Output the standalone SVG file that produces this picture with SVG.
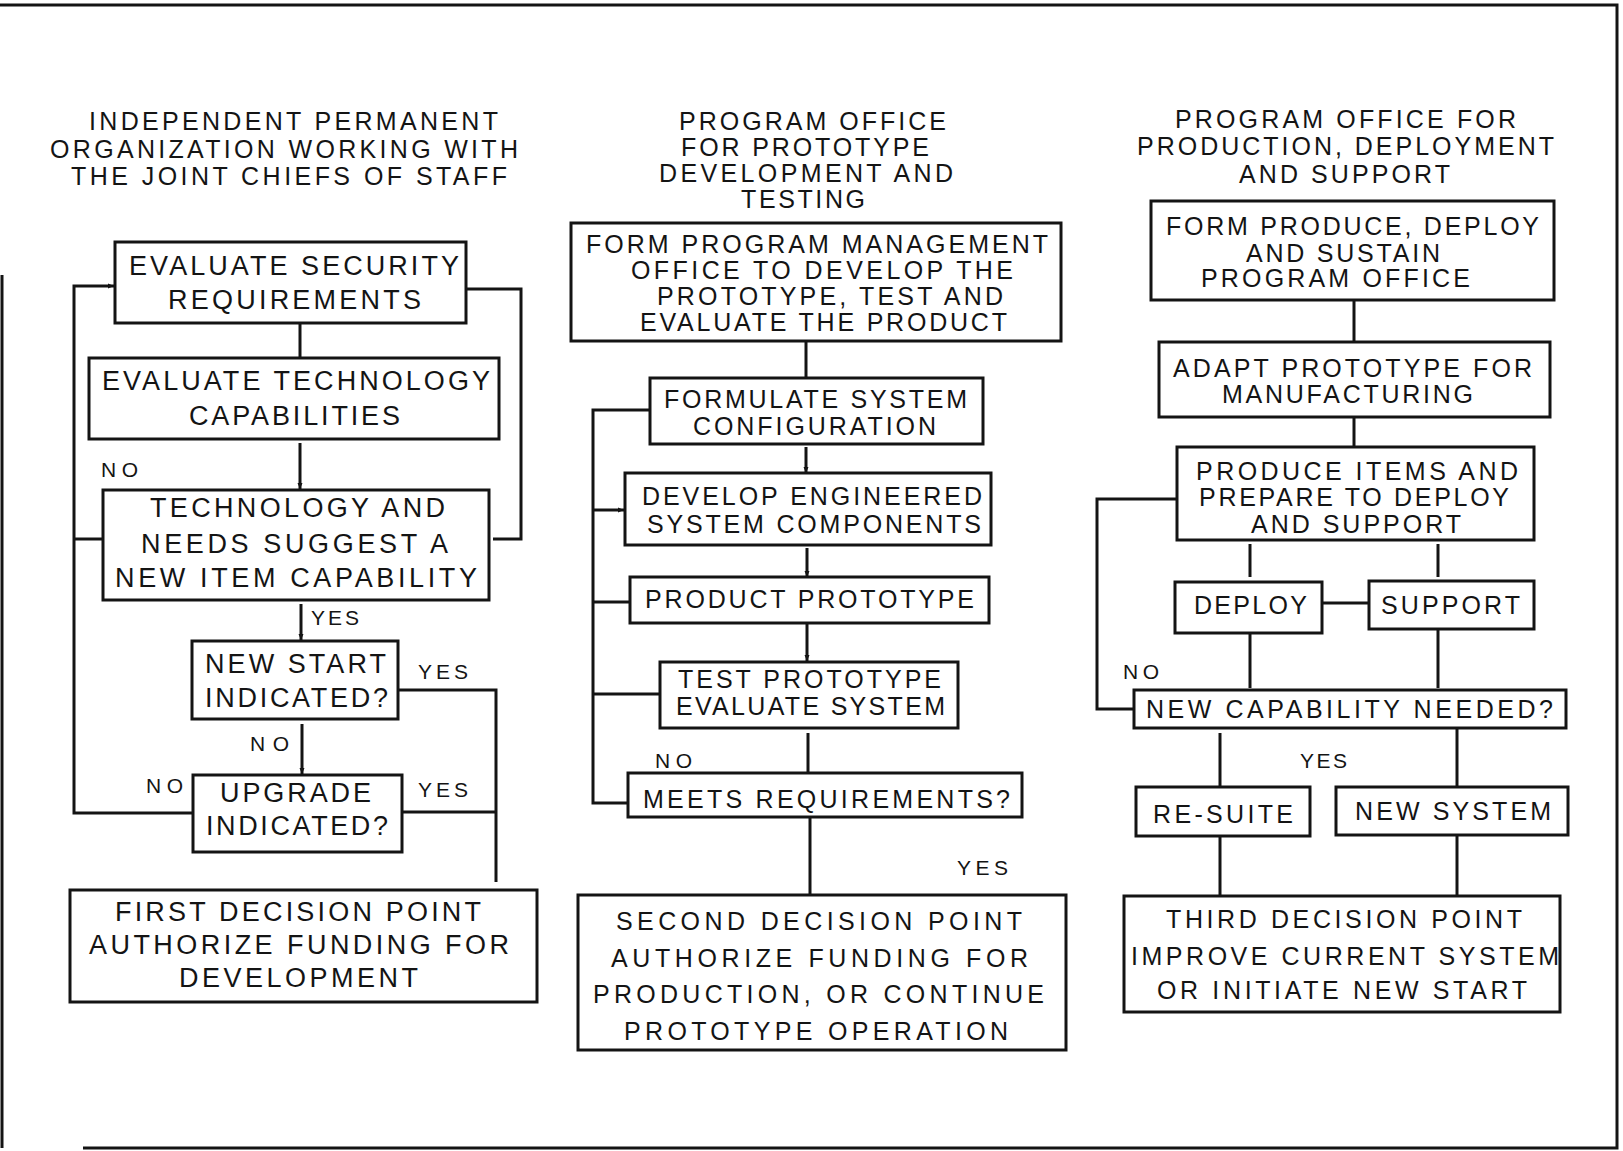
<svg xmlns="http://www.w3.org/2000/svg" width="1623" height="1151" viewBox="0 0 1623 1151">
  <style>
    .box { fill: #fff; stroke: #141414; stroke-width: 3; }
    .ln { fill: none; stroke: #141414; stroke-width: 3; }
    .frame { fill: none; stroke: #141414; stroke-width: 3; }
    text { font-family: "Liberation Sans", Arial, sans-serif; fill: #141414; font-size: 25px; }
    .big { font-size: 27px; }
    .lbl { font-size: 21px; }
  </style>
  <defs>
    <marker id="arr" viewBox="0 0 6 6" refX="6" refY="3" markerWidth="6" markerHeight="6" markerUnits="userSpaceOnUse" orient="auto">
      <path d="M0,0.5 L6,3 L0,5.5 Z" fill="#141414"/>
    </marker>
  </defs>

  <rect x="0" y="0" width="1623" height="1151" fill="#fff"/>

  <!-- page frame -->
  <g id="frame">
    <path class="frame" d="M0 5 H1617 V1148 H83"/>
    <path class="frame" d="M2 275 V1148"/>
  </g>

  <!-- column headings -->
  <g id="heading-1">
    <text x="89" y="130" textLength="409" lengthAdjust="spacing">INDEPENDENT PERMANENT</text>
    <text x="50" y="158" textLength="468" lengthAdjust="spacing">ORGANIZATION WORKING WITH</text>
    <text x="71" y="185" textLength="436" lengthAdjust="spacing">THE JOINT CHIEFS OF STAFF</text>
  </g>
  <g id="heading-2">
    <text x="679" y="130" textLength="267" lengthAdjust="spacing">PROGRAM OFFICE</text>
    <text x="681" y="156" textLength="248" lengthAdjust="spacing">FOR PROTOTYPE</text>
    <text x="659" y="182" textLength="294" lengthAdjust="spacing">DEVELOPMENT AND</text>
    <text x="741" y="208" textLength="124" lengthAdjust="spacing">TESTING</text>
  </g>
  <g id="heading-3">
    <text x="1175" y="128" textLength="341" lengthAdjust="spacing">PROGRAM OFFICE FOR</text>
    <text x="1137" y="155" textLength="417" lengthAdjust="spacing">PRODUCTION, DEPLOYMENT</text>
    <text x="1239" y="183" textLength="211" lengthAdjust="spacing">AND SUPPORT</text>
  </g>

  <!-- connectors -->
  <g id="connectors">
    <!-- column 1 -->
    <path class="ln" d="M300 323 V358"/>
    <path class="ln" d="M300 443 V489" marker-end="url(#arr)"/>
    <path class="ln" d="M301 604 V640" marker-end="url(#arr)"/>
    <path class="ln" d="M302 724 V774" marker-end="url(#arr)"/>
    <path class="ln" d="M193 813 H74 V286 H114" marker-end="url(#arr)"/>
    <path class="ln" d="M74 539 H103"/>
    <path class="ln" d="M466 289 H521 V539 H493"/>
    <path class="ln" d="M398 690 H496 V882"/>
    <path class="ln" d="M402 812 H496"/>
    <!-- column 2 -->
    <path class="ln" d="M806 341 V378"/>
    <path class="ln" d="M806 447 V473" marker-end="url(#arr)"/>
    <path class="ln" d="M807 548 V577" marker-end="url(#arr)"/>
    <path class="ln" d="M807 623 V661" marker-end="url(#arr)"/>
    <path class="ln" d="M808 733 V773"/>
    <path class="ln" d="M810 817 V895"/>
    <path class="ln" d="M650 410 H593 V803 H628"/>
    <path class="ln" d="M593 510 H624" marker-end="url(#arr)"/>
    <path class="ln" d="M593 602 H630"/>
    <path class="ln" d="M593 694 H660"/>
    <!-- column 3 -->
    <path class="ln" d="M1354 300 V342"/>
    <path class="ln" d="M1354 417 V447"/>
    <path class="ln" d="M1250 544 V577"/>
    <path class="ln" d="M1438 544 V577"/>
    <path class="ln" d="M1322 603 H1369"/>
    <path class="ln" d="M1250 633 V688"/>
    <path class="ln" d="M1438 629 V688"/>
    <path class="ln" d="M1177 499 H1097 V709 H1134"/>
    <path class="ln" d="M1220 733 V787"/>
    <path class="ln" d="M1457 728 V787"/>
    <path class="ln" d="M1220 836 V896"/>
    <path class="ln" d="M1457 835 V896"/>
  </g>

  <!-- branch labels -->
  <g id="labels">
    <text class="lbl" x="101" y="477" textLength="37" lengthAdjust="spacing">NO</text>
    <text class="lbl" x="311" y="625" textLength="48" lengthAdjust="spacing">YES</text>
    <text class="lbl" x="418" y="679" textLength="50" lengthAdjust="spacing">YES</text>
    <text class="lbl" x="250" y="751" textLength="39" lengthAdjust="spacing">NO</text>
    <text class="lbl" x="146" y="793" textLength="37" lengthAdjust="spacing">NO</text>
    <text class="lbl" x="418" y="797" textLength="50" lengthAdjust="spacing">YES</text>
    <text class="lbl" x="655" y="768" textLength="37" lengthAdjust="spacing">NO</text>
    <text class="lbl" x="957" y="875" textLength="51" lengthAdjust="spacing">YES</text>
    <text class="lbl" x="1123" y="679" textLength="36" lengthAdjust="spacing">NO</text>
    <text class="lbl" x="1300" y="768" textLength="47" lengthAdjust="spacing">YES</text>
  </g>

  <!-- column 1 nodes -->
  <g id="evaluate-security">
    <rect class="box" x="115" y="242" width="351" height="81"/>
    <text class="big" x="129" y="275" textLength="330" lengthAdjust="spacing">EVALUATE SECURITY</text>
    <text class="big" x="168" y="309" textLength="253" lengthAdjust="spacing">REQUIREMENTS</text>
  </g>
  <g id="evaluate-technology">
    <rect class="box" x="89" y="358" width="410" height="81"/>
    <text class="big" x="102" y="390" textLength="388" lengthAdjust="spacing">EVALUATE TECHNOLOGY</text>
    <text class="big" x="189" y="425" textLength="211" lengthAdjust="spacing">CAPABILITIES</text>
  </g>
  <g id="new-item-capability">
    <rect class="box" x="103" y="490" width="386" height="110"/>
    <text class="big" x="150" y="517" textLength="295" lengthAdjust="spacing">TECHNOLOGY AND</text>
    <text class="big" x="141" y="553" textLength="307" lengthAdjust="spacing">NEEDS SUGGEST A</text>
    <text class="big" x="115" y="587" textLength="362" lengthAdjust="spacing">NEW ITEM CAPABILITY</text>
  </g>
  <g id="new-start">
    <rect class="box" x="192" y="641" width="206" height="78"/>
    <text class="big" x="205" y="673" textLength="181" lengthAdjust="spacing">NEW START</text>
    <text class="big" x="205" y="707" textLength="183" lengthAdjust="spacing">INDICATED?</text>
  </g>
  <g id="upgrade">
    <rect class="box" x="193" y="775" width="209" height="77"/>
    <text class="big" x="220" y="802" textLength="151" lengthAdjust="spacing">UPGRADE</text>
    <text class="big" x="206" y="835" textLength="182" lengthAdjust="spacing">INDICATED?</text>
  </g>
  <g id="first-decision">
    <rect class="box" x="70" y="890" width="467" height="112"/>
    <text class="big" x="115" y="921" textLength="366" lengthAdjust="spacing">FIRST DECISION POINT</text>
    <text class="big" x="89" y="954" textLength="420" lengthAdjust="spacing">AUTHORIZE FUNDING FOR</text>
    <text class="big" x="179" y="987" textLength="239" lengthAdjust="spacing">DEVELOPMENT</text>
  </g>

  <!-- column 2 nodes -->
  <g id="form-pmo">
    <rect class="box" x="571" y="223" width="490" height="118"/>
    <text x="586" y="253" textLength="462" lengthAdjust="spacing">FORM PROGRAM MANAGEMENT</text>
    <text x="631" y="279" textLength="382" lengthAdjust="spacing">OFFICE TO DEVELOP THE</text>
    <text x="657" y="305" textLength="346" lengthAdjust="spacing">PROTOTYPE, TEST AND</text>
    <text x="640" y="331" textLength="367" lengthAdjust="spacing">EVALUATE THE PRODUCT</text>
  </g>
  <g id="formulate-config">
    <rect class="box" x="650" y="378" width="333" height="66"/>
    <text x="664" y="408" textLength="303" lengthAdjust="spacing">FORMULATE SYSTEM</text>
    <text x="693" y="435" textLength="243" lengthAdjust="spacing">CONFIGURATION</text>
  </g>
  <g id="develop-components">
    <rect class="box" x="625" y="473" width="366" height="72"/>
    <text x="642" y="505" textLength="340" lengthAdjust="spacing">DEVELOP ENGINEERED</text>
    <text x="647" y="533" textLength="334" lengthAdjust="spacing">SYSTEM COMPONENTS</text>
  </g>
  <g id="product-prototype">
    <rect class="box" x="630" y="577" width="359" height="46"/>
    <text x="645" y="608" textLength="329" lengthAdjust="spacing">PRODUCT PROTOTYPE</text>
  </g>
  <g id="test-prototype">
    <rect class="box" x="660" y="662" width="298" height="66"/>
    <text x="678" y="688" textLength="263" lengthAdjust="spacing">TEST PROTOTYPE</text>
    <text x="676" y="715" textLength="269" lengthAdjust="spacing">EVALUATE SYSTEM</text>
  </g>
  <g id="meets-requirements">
    <rect class="box" x="628" y="773" width="394" height="44"/>
    <text x="643" y="808" textLength="367" lengthAdjust="spacing">MEETS REQUIREMENTS?</text>
  </g>
  <g id="second-decision">
    <rect class="box" x="578" y="895" width="488" height="155"/>
    <text x="616" y="930" textLength="406" lengthAdjust="spacing">SECOND DECISION POINT</text>
    <text x="611" y="967" textLength="417" lengthAdjust="spacing">AUTHORIZE FUNDING FOR</text>
    <text x="593" y="1003" textLength="451" lengthAdjust="spacing">PRODUCTION, OR CONTINUE</text>
    <text x="624" y="1040" textLength="384" lengthAdjust="spacing">PROTOTYPE OPERATION</text>
  </g>

  <!-- column 3 nodes -->
  <g id="form-pds-office">
    <rect class="box" x="1151" y="201" width="403" height="99"/>
    <text x="1166" y="235" textLength="373" lengthAdjust="spacing">FORM PRODUCE, DEPLOY</text>
    <text x="1246" y="262" textLength="194" lengthAdjust="spacing">AND SUSTAIN</text>
    <text x="1201" y="287" textLength="269" lengthAdjust="spacing">PROGRAM OFFICE</text>
  </g>
  <g id="adapt-prototype">
    <rect class="box" x="1159" y="342" width="391" height="75"/>
    <text x="1173" y="377" textLength="359" lengthAdjust="spacing">ADAPT PROTOTYPE FOR</text>
    <text x="1222" y="403" textLength="251" lengthAdjust="spacing">MANUFACTURING</text>
  </g>
  <g id="produce-items">
    <rect class="box" x="1177" y="447" width="357" height="93"/>
    <text x="1196" y="480" textLength="322" lengthAdjust="spacing">PRODUCE ITEMS AND</text>
    <text x="1199" y="506" textLength="310" lengthAdjust="spacing">PREPARE TO DEPLOY</text>
    <text x="1251" y="533" textLength="210" lengthAdjust="spacing">AND SUPPORT</text>
  </g>
  <g id="deploy">
    <rect class="box" x="1175" y="582" width="147" height="51"/>
    <text x="1194" y="614" textLength="113" lengthAdjust="spacing">DEPLOY</text>
  </g>
  <g id="support">
    <rect class="box" x="1369" y="581" width="165" height="48"/>
    <text x="1381" y="614" textLength="139" lengthAdjust="spacing">SUPPORT</text>
  </g>
  <g id="new-capability">
    <rect class="box" x="1134" y="690" width="432" height="38"/>
    <text x="1146" y="718" textLength="407" lengthAdjust="spacing">NEW CAPABILITY NEEDED?</text>
  </g>
  <g id="re-suite">
    <rect class="box" x="1136" y="787" width="174" height="49"/>
    <text x="1153" y="823" textLength="140" lengthAdjust="spacing">RE-SUITE</text>
  </g>
  <g id="new-system">
    <rect class="box" x="1336" y="787" width="232" height="48"/>
    <text x="1355" y="820" textLength="196" lengthAdjust="spacing">NEW SYSTEM</text>
  </g>
  <g id="third-decision">
    <rect class="box" x="1124" y="896" width="436" height="116"/>
    <text x="1166" y="928" textLength="356" lengthAdjust="spacing">THIRD DECISION POINT</text>
    <text x="1131" y="965" textLength="428" lengthAdjust="spacing">IMPROVE CURRENT SYSTEM</text>
    <text x="1157" y="999" textLength="370" lengthAdjust="spacing">OR INITIATE NEW START</text>
  </g>
</svg>
